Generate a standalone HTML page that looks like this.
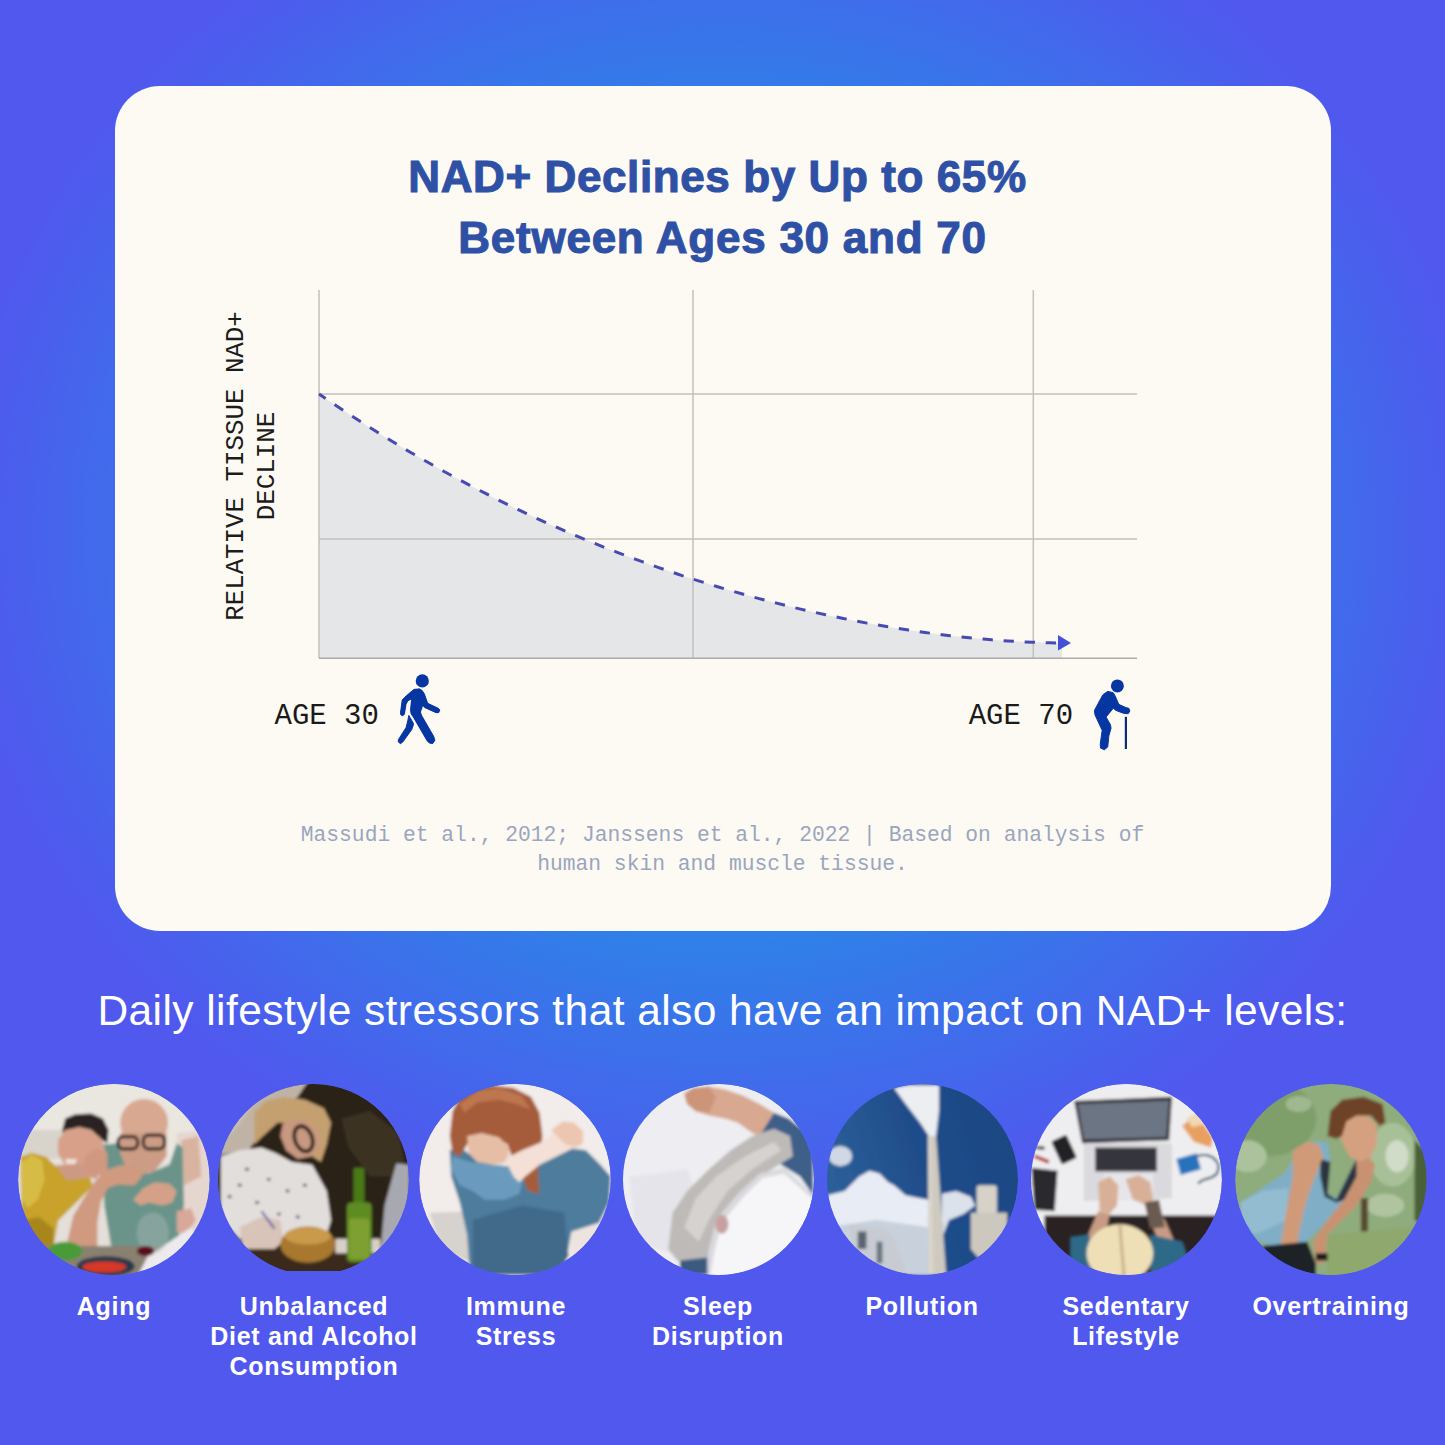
<!DOCTYPE html>
<html><head><meta charset="utf-8">
<style>
html,body{margin:0;padding:0;}
body{width:1445px;height:1445px;overflow:hidden;position:relative;
background:#5058EE;
background:radial-gradient(ellipse 765px 695px at 722px 530px,#2E82E8 0%,#2E82E8 57%,#5058EE 100%);
font-family:"Liberation Sans",sans-serif;}
.card{position:absolute;left:115px;top:85.5px;width:1215.5px;height:845.5px;border-radius:45px;background:#FCFAF3;}
.t{position:absolute;white-space:nowrap;}
.title{left:0;width:1445px;text-align:center;color:#2E51A6;font-weight:bold;font-size:44px;line-height:60.5px;letter-spacing:0.65px;-webkit-text-stroke:1.1px #2E51A6;}
.mono{font-family:"Liberation Mono",monospace;}
.sub{left:0;width:1445px;text-align:center;color:#fff;font-size:42.5px;letter-spacing:0.42px;}
.lab{color:#fff;font-weight:bold;font-size:25px;line-height:30px;text-align:center;width:240px;letter-spacing:0.7px;}
.ph{position:absolute;width:191.4px;height:191.4px;border-radius:50%;overflow:hidden;top:1083.8px;clip-path:circle(95.7px at 95.7px 95.7px);}
svg{position:absolute;left:0;top:0;}
.ylab{font-size:25.8px;line-height:30.8px;color:#1C1C1C;text-align:center;transform:translate(-50%,-50%) rotate(-90deg);}
.age{font-size:29px;line-height:34px;color:#1A1A1A;}
.cite{font-size:21.3px;line-height:28.7px;color:#9AA5BE;text-align:center;}
</style></head>
<body>
<div class="card"></div>
<div class="t title" style="top:146.5px;left:-5px;letter-spacing:0.6px;">NAD+ Declines by Up to 65%</div>
<div class="t title" style="top:207.5px;left:0px;letter-spacing:0.75px;">Between Ages 30 and 70</div>

<svg width="1445" height="1445" viewBox="0 0 1445 1445">
  <!-- fill under curve -->
  <path d="M319.0,394.0 L327.3,399.7 L335.6,405.2 L343.9,410.8 L352.2,416.2 L360.5,421.6 L368.8,426.9 L377.1,432.1 L385.4,437.2 L393.7,442.3 L402.0,447.3 L410.3,452.2 L418.6,457.0 L426.9,461.8 L435.2,466.5 L443.6,471.2 L451.9,475.7 L460.2,480.2 L468.5,484.6 L476.8,489.0 L485.1,493.2 L493.4,497.5 L501.7,501.6 L510.0,505.7 L518.3,509.7 L526.6,513.6 L534.9,517.5 L543.2,521.3 L551.5,525.0 L559.8,528.7 L568.1,532.3 L576.4,535.8 L584.7,539.3 L593.0,542.7 L601.3,546.1 L609.6,549.4 L617.9,552.6 L626.2,555.8 L634.5,558.9 L642.8,561.9 L651.1,564.9 L659.4,567.8 L667.7,570.7 L676.0,573.5 L684.3,576.3 L692.7,579.0 L701.0,581.6 L709.3,584.2 L717.6,586.8 L725.9,589.2 L734.2,591.6 L742.5,594.0 L750.8,596.3 L759.1,598.6 L767.4,600.8 L775.7,602.9 L784.0,605.0 L792.3,607.1 L800.6,609.1 L808.9,611.0 L817.2,612.9 L825.5,614.7 L833.8,616.5 L842.1,618.2 L850.4,619.9 L858.7,621.5 L867.0,623.1 L875.3,624.6 L883.6,626.0 L891.9,627.4 L900.2,628.8 L908.5,630.1 L916.8,631.3 L925.1,632.5 L933.4,633.6 L941.8,634.7 L950.1,635.7 L958.4,636.6 L966.7,637.5 L975.0,638.3 L983.3,639.1 L991.6,639.8 L999.9,640.4 L1008.2,641.0 L1016.5,641.5 L1024.8,641.9 L1033.1,642.3 L1041.4,642.6 L1049.7,642.8 L1058.0,643.0 L1062,643 L1062,658 L319,658 Z" fill="#E5E6E8"/>
  <!-- grid -->
  <g stroke="#C4C1BB" stroke-width="1.5" fill="none">
    <line x1="319" y1="290" x2="319" y2="658"/>
    <line x1="693" y1="290" x2="693" y2="658"/>
    <line x1="1033.3" y1="290" x2="1033.3" y2="658"/>
    <line x1="319" y1="394" x2="1137" y2="394"/>
    <line x1="319" y1="539.1" x2="1137" y2="539.1"/>
  </g>
  <line x1="319" y1="658.3" x2="1137" y2="658.3" stroke="#ABABA8" stroke-width="1.4"/>
  <path d="M319.0,394.0 L327.3,399.7 L335.6,405.2 L343.9,410.8 L352.2,416.2 L360.5,421.6 L368.8,426.9 L377.1,432.1 L385.4,437.2 L393.7,442.3 L402.0,447.3 L410.3,452.2 L418.6,457.0 L426.9,461.8 L435.2,466.5 L443.6,471.2 L451.9,475.7 L460.2,480.2 L468.5,484.6 L476.8,489.0 L485.1,493.2 L493.4,497.5 L501.7,501.6 L510.0,505.7 L518.3,509.7 L526.6,513.6 L534.9,517.5 L543.2,521.3 L551.5,525.0 L559.8,528.7 L568.1,532.3 L576.4,535.8 L584.7,539.3 L593.0,542.7 L601.3,546.1 L609.6,549.4 L617.9,552.6 L626.2,555.8 L634.5,558.9 L642.8,561.9 L651.1,564.9 L659.4,567.8 L667.7,570.7 L676.0,573.5 L684.3,576.3 L692.7,579.0 L701.0,581.6 L709.3,584.2 L717.6,586.8 L725.9,589.2 L734.2,591.6 L742.5,594.0 L750.8,596.3 L759.1,598.6 L767.4,600.8 L775.7,602.9 L784.0,605.0 L792.3,607.1 L800.6,609.1 L808.9,611.0 L817.2,612.9 L825.5,614.7 L833.8,616.5 L842.1,618.2 L850.4,619.9 L858.7,621.5 L867.0,623.1 L875.3,624.6 L883.6,626.0 L891.9,627.4 L900.2,628.8 L908.5,630.1 L916.8,631.3 L925.1,632.5 L933.4,633.6 L941.8,634.7 L950.1,635.7 L958.4,636.6 L966.7,637.5 L975.0,638.3 L983.3,639.1 L991.6,639.8 L999.9,640.4 L1008.2,641.0 L1016.5,641.5 L1024.8,641.9 L1033.1,642.3 L1041.4,642.6 L1049.7,642.8 L1058.0,643.0" fill="none" stroke="#474AB2" stroke-width="3" stroke-dasharray="10.3 10.8" stroke-dashoffset="2.3"/>
  <path d="M1058,635 L1071,643 L1058,650.5 Z" fill="#4350D8"/>

  <!-- walking icon -->
  <g fill="#0636A2" stroke-linejoin="round">
    <circle cx="422.3" cy="680.9" r="6.6"/>
    <polygon points="408.84,715.40 413.27,723.16 413.27,725.37 411.61,729.80 402.75,741.98 400.54,743.64 398.32,741.98 398.32,739.77 406.07,727.59 407.74,720.94" stroke="#0636A2" stroke-width="1"/>
    <polygon points="413.83,689.38 419.36,688.83 422.13,690.49 424.35,693.81 427.67,703.22 438.19,708.21 439.85,709.87 438.74,712.64 435.97,712.64 424.90,707.65 422.69,705.44 420.47,712.08 421.58,715.40 433.76,736.45 434.87,740.32 432.65,743.64 429.33,743.09 427.12,740.87 413.27,717.07 411.06,713.74 410.50,709.87 411.61,698.79 407.74,701.01 406.07,704.33 404.41,714.30 402.20,715.96 400.54,714.30 400.54,712.08 402.20,699.90 406.07,696.02" stroke="#FCFAF3" stroke-width="3" paint-order="stroke"/>
    <polygon points="413.83,689.38 419.36,688.83 422.13,690.49 424.35,693.81 427.67,703.22 438.19,708.21 439.85,709.87 438.74,712.64 435.97,712.64 424.90,707.65 422.69,705.44 420.47,712.08 421.58,715.40 433.76,736.45 434.87,740.32 432.65,743.64 429.33,743.09 427.12,740.87 413.27,717.07 411.06,713.74 410.50,709.87 411.61,698.79 407.74,701.01 406.07,704.33 404.41,714.30 402.20,715.96 400.54,714.30 400.54,712.08 402.20,699.90 406.07,696.02" stroke="#0636A2" stroke-width="0.8"/>
  </g>
  <!-- elderly icon -->
  <g fill="#0636A2" stroke-linejoin="round">
    <circle cx="1117.4" cy="685.9" r="6.5"/>
    <polygon points="1107.72,691.33 1113.26,692.72 1114.92,695.49 1118.79,704.35 1125.99,707.67 1128.76,708.22 1129.87,710.99 1128.21,713.76 1123.22,713.21 1116.02,710.44 1113.26,708.22 1106.06,717.08 1110.49,724.83 1111.04,728.16 1108.83,735.91 1107.72,746.98 1104.40,749.75 1100.52,748.09 1100.24,744.21 1102.18,730.37 1094.98,714.87 1094.43,710.44 1102.74,694.93" stroke="#0636A2" stroke-width="1"/>
    <path d="M1125.9,716.8 L1125.9,749" stroke="#0B2C78" stroke-width="2.2"/>
  </g>
</svg>

<div class="t mono ylab" style="left:252.8px;top:466px;">RELATIVE TISSUE NAD+<br>DECLINE</div>
<div class="t mono age" style="left:274.5px;top:700px;">AGE 30</div>
<div class="t mono age" style="left:968.7px;top:700px;">AGE 70</div>
<div class="t mono cite" style="left:0;width:1445px;top:821px;">Massudi et al., 2012; Janssens et al., 2022 | Based on analysis of<br>human skin and muscle tissue.</div>
<div class="t sub" style="top:987px;">Daily lifestyle stressors that also have an impact on NAD+ levels:</div>
<!--PHOTOS-->
<svg class="ph" style="left:18.2px;" width="191.4" height="191.4" viewBox="0 0 192 192"><defs><filter id="bl0" x="-5%" y="-5%" width="110%" height="110%"><feGaussianBlur stdDeviation="1.6"/></filter></defs><g><g filter="url(#bl0)"><g transform='translate(-7.90,-9) scale(0.14535)'>
<rect x="0" y="0" width="1445" height="1445" fill="#E4DFD8"/>
<rect x="0" y="0" width="1445" height="600" fill="#EAE6E0"/>
<rect x="60" y="380" width="300" height="200" fill="#D8D4CC"/>
<polygon points="1150,400 1380,380 1400,1100 1150,1150" fill="#E6D6D0"/>
<polygon points="1180,450 1300,420 1320,700 1200,760" fill="#D8B4A0"/>
<polygon points="640,480 760,470 820,600 950,680 1100,620 1150,470 1190,500 1200,900 1150,1200 700,1200 650,900" fill="#6A948A"/>
<polygon points="360,380 380,300 450,270 560,265 640,300 680,380 670,470 620,440 560,380 470,360 400,390 370,430" fill="#2A2424"/>
<polygon points="330,450 380,380 480,360 560,380 630,440 660,530 620,620 540,660 440,660 370,610 330,540" fill="#D8A088"/>
<polygon points="380,580 460,580 450,620 390,615" fill="#F0E0D8"/>
<polygon points="291,626 480,610 600,640 600,720 551,706 391,740 331,700" fill="#CC9A84"/>
<polygon points="511,560 600,506 671,540 671,686 560,700 511,650" fill="#D09880"/>
<polygon points="71,566 151,536 251,566 331,646 391,726 551,706 571,766 471,866 331,1006 300,1180 120,1180 80,1000" fill="#C8A22A"/>
<polygon points="100,1000 200,980 300,1060 300,1180 120,1180" fill="#A8861C"/>
<polygon points="75,600 150,550 220,590 240,720 190,860 120,920 80,850" fill="#D6BC44"/>
<ellipse cx="925" cy="330" rx="165" ry="165" fill="#D8A890"/>
<polygon points="760,400 1080,400 1080,560 1000,660 900,690 800,640 760,540" fill="#CC9C84"/>
<rect x="745" y="425" width="135" height="85" rx="35" fill="none" stroke="#2A2020" stroke-width="22"/>
<rect x="920" y="415" width="145" height="95" rx="35" fill="none" stroke="#2A2020" stroke-width="22"/>
<polygon points="388,1180 436,971 507,852 579,742 650,661 743,628 800,620 900,640 910,700 860,760 743,756 674,780 626,875 602,1018 602,1180" fill="#CF9A80"/>
<polygon points="850,860 920,780 1000,740 1100,750 1150,800 1120,880 1050,900 960,880 900,900" fill="#D4A088"/>
<polygon points="1150,940 1250,920 1280,1000 1220,1100 1150,1080" fill="#D8A898"/>
<rect x="0" y="1180" width="1445" height="265" fill="#8A8070"/>
<ellipse cx="380" cy="1215" rx="120" ry="65" fill="#4A9A38"/>
<ellipse cx="660" cy="1320" rx="200" ry="70" fill="#283848"/>
<ellipse cx="650" cy="1325" rx="150" ry="38" fill="#D83828"/>
<polygon points="850,1445 950,1250 1100,1150 1250,1050 1320,1150 1250,1300 1000,1445" fill="#ECEAEC"/>
<ellipse cx="985" cy="1090" rx="110" ry="140" fill="#A8B8B4" opacity="0.45"/>
<ellipse cx="935" cy="1215" rx="60" ry="35" fill="#5A1020"/>
</g></g></g></svg>
<svg class="ph" style="left:217.6px;" width="191.4" height="191.4" viewBox="0 0 192 192"><defs><filter id="bl1" x="-5%" y="-5%" width="110%" height="110%"><feGaussianBlur stdDeviation="1.6"/></filter><clipPath id="cb1"><rect x="0" y="0" width="192" height="187.5"/></clipPath></defs><g clip-path="url(#cb1)"><g filter="url(#bl1)"><g transform='translate(-7.25,-9) scale(0.14535)'>
<rect x="0" y="0" width="1445" height="1445" fill="#2A2018"/>
<polygon points="900,300 1100,250 1300,400 1350,700 1100,700 950,500" fill="#3A3020"/>
<polygon points="0,0 700,0 600,150 420,300 260,520 0,560" fill="#BFB3A6"/>
<polygon points="0,0 400,0 300,200 150,400 0,450" fill="#C8BEB2"/>
<polygon points="70,560 200,520 350,500 450,540 560,600 700,620 800,800 830,1000 800,1100 600,1120 400,1140 200,1130 70,1000" fill="#E2DEDC"/>
<g fill="#4A4448"><ellipse cx="250" cy="650" rx="14" ry="10"/><ellipse cx="400" cy="720" rx="14" ry="10"/><ellipse cx="530" cy="800" rx="14" ry="10"/><ellipse cx="320" cy="880" rx="14" ry="10"/><ellipse cx="470" cy="960" rx="14" ry="10"/><ellipse cx="650" cy="760" rx="14" ry="10"/><ellipse cx="130" cy="840" rx="14" ry="10"/><ellipse cx="600" cy="980" rx="14" ry="10"/><ellipse cx="200" cy="760" rx="14" ry="10"/></g>
<polygon points="300,260 380,180 500,150 650,170 780,230 830,330 800,480 760,600 700,560 650,420 560,330 460,330 360,420 300,480" fill="#C4A070"/>
<polygon points="500,330 640,300 740,380 760,500 700,560 600,580 520,520 480,420" fill="#C89880"/>
<ellipse cx="640" cy="440" rx="60" ry="90" transform="rotate(-20 640 440)" fill="none" stroke="#1A1410" stroke-width="25"/>
<polygon points="200,1050 350,980 480,1000 500,1150 380,1250 220,1200" fill="#D8C4B8"/>
<path d="M350,940 L440,1060" stroke="#3040A0" stroke-width="12"/>
<rect x="0" y="1200" width="1445" height="245" fill="#3A2A1C"/>
<polygon points="860,1130 1170,1130 1170,1230 860,1230" fill="#D8D0C8"/>
<ellipse cx="670" cy="1170" rx="190" ry="125" fill="#A8782E"/>
<ellipse cx="670" cy="1110" rx="160" ry="60" fill="#C89A4A"/>
<polygon points="1280,610 1370,620 1370,1100 1170,1230 1200,900" fill="#A8A8B0"/>
<rect x="985" y="640" width="75" height="260" rx="12" fill="#4A7A18"/>
<rect x="940" y="880" width="170" height="410" rx="30" fill="#5E8C22"/>
<rect x="955" y="990" width="140" height="280" rx="20" fill="#7EA030"/>
</g></g></g></svg>
<svg class="ph" style="left:419.3px;" width="191.4" height="191.4" viewBox="0 0 192 192"><defs><filter id="bl2" x="-5%" y="-5%" width="110%" height="110%"><feGaussianBlur stdDeviation="1.6"/></filter></defs><g><g filter="url(#bl2)"><g transform='translate(-6.95,-9) scale(0.14535)'>
<rect x="0" y="0" width="1445" height="1445" fill="#F2ECEA"/>
<polygon points="120,950 420,940 420,1300 200,1200" fill="#D6D2CE"/>
<polygon points="1100,1000 1300,980 1300,1250 1100,1250" fill="#EDE4E0"/>
<polygon points="260,520 330,500 420,560 560,620 760,640 900,560 1050,500 1200,520 1300,620 1370,700 1360,880 1290,1020 1100,1080 1060,1300 950,1380 400,1380 380,1100 330,880 270,700" fill="#4E7C9C"/>
<polygon points="420,1000 760,900 1050,950 1080,1250 950,1380 420,1380" fill="#41698A"/>
<polygon points="280,560 400,600 560,620 700,640 770,700 740,820 640,860 500,860 420,800 330,760 270,650" fill="#6B9BBE"/>
<polygon points="260,420 280,250 330,150 430,90 560,70 700,90 820,150 880,260 900,420 880,560 870,700 880,820 800,800 760,700 700,600 660,480 560,420 440,420 380,480 330,560 280,540" fill="#A55C3A"/>
<polygon points="330,200 450,110 600,90 750,140 820,240 720,200 600,170 450,190 360,260" fill="#BE7650"/>
<polygon points="380,420 480,400 600,430 670,500 660,600 560,620 450,600 390,540" fill="#E6BEA6"/>
<polygon points="640,580 760,520 900,460 1000,380 1060,340 1140,380 1160,470 1100,510 1000,560 880,620 780,700 740,740 700,700" fill="#F4E0D6"/>
<polygon points="960,380 1040,320 1120,330 1180,390 1180,470 1130,500 1060,480" fill="#ECC6B0"/>
</g></g></g></svg>
<svg class="ph" style="left:622.6px;" width="191.4" height="191.4" viewBox="0 0 192 192"><defs><filter id="bl3" x="-5%" y="-5%" width="110%" height="110%"><feGaussianBlur stdDeviation="1.6"/></filter></defs><g><g filter="url(#bl3)"><g transform='translate(-8.35,-9) scale(0.14535)'>
<rect x="0" y="0" width="1445" height="1445" fill="#EEEEF2"/>
<polygon points="100,700 500,650 600,900 450,1250 150,1150" fill="#E4E4EA"/>
<polygon points="480,130 540,90 650,80 760,100 880,140 1000,200 1100,260 1120,380 1050,440 950,400 850,330 760,300 650,280 560,250 500,200" fill="#D8A890"/>
<polygon points="480,130 540,90 650,80 700,150 650,260 560,250 500,200" fill="#CC9478"/>
<polygon points="1000,420 1100,260 1200,300 1300,380 1370,500 1370,830 1280,700 1150,620 1060,520" fill="#3D5F88"/>
<polygon points="370,1200 400,950 500,800 650,650 800,520 950,420 1100,370 1210,420 1230,560 1100,640 950,740 800,880 700,1050 660,1260 560,1300 430,1280" fill="#BEBAB8"/>
<polygon points="480,1050 560,850 700,700 900,560 1100,460 1150,520 950,650 780,800 650,1000 580,1150" fill="#D6D2D0"/>
<polygon points="620,1380 650,1200 700,1000 850,820 1000,680 1170,640 1370,830 1370,1380" fill="#D8D8DE"/>
<polygon points="660,1380 690,1210 740,1020 880,850 1020,710 1170,680 1370,860 1370,1380" fill="#F6F6F8"/>
<ellipse cx="740" cy="1030" rx="45" ry="65" fill="#C8A0A0"/>
<polygon points="450,1280 640,1260 640,1380 450,1380" fill="#3A5A80"/>
</g></g></g></svg>
<svg class="ph" style="left:826.6px;" width="191.4" height="191.4" viewBox="0 0 192 192"><defs><filter id="bl4" x="-5%" y="-5%" width="110%" height="110%"><feGaussianBlur stdDeviation="1.6"/></filter></defs><g><g filter="url(#bl4)"><g transform='translate(-8.35,-9) scale(0.14535)'>
<defs><linearGradient id="sky2" x1="0" y1="0.6" x2="1" y2="0.3"><stop offset="0" stop-color="#2E629C"/><stop offset="0.5" stop-color="#1F4D8A"/><stop offset="1" stop-color="#1A4682"/></linearGradient></defs>
<rect x="0" y="0" width="1445" height="1445" fill="url(#sky2)"/>
<ellipse cx="150" cy="560" rx="80" ry="70" fill="#D0D8E6"/>
<polygon points="60,830 180,800 280,700 350,660 420,680 480,740 520,760 600,830 700,850 760,860 760,1380 300,1380 60,1150" fill="#E8ECF4"/>
<polygon points="60,1050 400,1000 760,1050 760,1380 60,1380" fill="#C8D0DC"/>
<polygon points="850,820 950,800 1050,840 1080,900 1000,960 900,1000 860,1100 850,1000" fill="#DCE2EC"/>
<polygon points="520,90 620,70 830,70 830,250 810,420 760,420 700,330 600,200" fill="#ECEEF2"/>
<polygon points="755,420 810,420 880,1380 760,1380" fill="#CFCAC0"/>
<polygon points="755,420 775,420 790,1380 760,1380" fill="#DCD6CA"/>
<rect x="1090" y="760" width="140" height="200" rx="20" fill="#D6D2C8"/>
<polygon points="1050,950 1300,950 1300,1260 1100,1260 1050,1200" fill="#CCC8BE"/>
<polygon points="200,1030 460,1060 520,1130 600,1330 600,1380 380,1380 250,1200" fill="#C8CCD2"/>
<rect x="270" y="1080" width="60" height="120" fill="#5A6470"/>
<rect x="400" y="1150" width="40" height="150" fill="#6A7480"/>
</g></g></g></svg>
<svg class="ph" style="left:1030.5px;" width="191.4" height="191.4" viewBox="0 0 192 192"><defs><filter id="bl5" x="-5%" y="-5%" width="110%" height="110%"><feGaussianBlur stdDeviation="1.6"/></filter></defs><g><g filter="url(#bl5)"><g transform='translate(-8.25,-9) scale(0.14535)'>
<rect x="0" y="0" width="1445" height="1445" fill="#EEEEF0"/>
<polygon points="150,970 1370,970 1370,1445 150,1445" fill="#2A2422"/>
<polygon points="420,470 1030,470 1030,850 420,870" fill="#DADADE"/>
<polygon points="560,680 900,680 900,850 560,860" fill="#E6E6EA"/>
<polygon points="355,180 1030,150 1010,450 410,470" fill="#2A2A2E"/>
<polygon points="380,200 1010,175 990,430 420,445" fill="#6C7484"/>
<rect x="500" y="500" width="425" height="165" fill="#36363C"/>
<rect x="220" y="420" width="130" height="190" rx="20" transform="rotate(-25 285 515)" fill="#222226" stroke="#F4F4F4" stroke-width="14"/>
<polygon points="60,640 240,660 220,940 80,930" fill="#2A2A2E"/>
<path d="M80,560 L180,600" stroke="#B83030" stroke-width="25"/>
<path d="M90,500 L150,505" stroke="#222" stroke-width="20"/>
<polygon points="1100,350 1200,270 1310,430 1300,500 1180,460" fill="#E8A060"/>
<polygon points="1130,300 1200,260 1250,340 1170,360" fill="#F0D8B0"/>
<polygon points="1060,580 1200,540 1230,650 1090,690" fill="#2872BC"/>
<path d="M1200,560 C1300,530 1380,600 1340,680 C1300,730 1250,700 1210,750" stroke="#1E4A60" stroke-width="15" fill="none"/>
<polygon points="430,1150 520,940 600,960 560,1160" fill="#C89C84"/>
<polygon points="900,880 980,1000 1060,1180 960,1200 860,960" fill="#C89C84"/>
<polygon points="520,740 600,700 660,760 650,900 600,960 530,940" fill="#D8B098"/>
<polygon points="710,720 800,690 880,740 900,860 860,900 760,860" fill="#D8B098"/>
<polygon points="840,880 940,860 980,1050 880,1060" fill="#6A5A50"/>
<polygon points="330,1120 460,1100 480,1445 330,1445" fill="#2E6A88"/>
<polygon points="880,1100 1100,1150 1200,1445 880,1445" fill="#2E6A88"/>
<ellipse cx="670" cy="1230" rx="230" ry="200" fill="#EEDFB6"/>
<path d="M670,1040 L700,1400" stroke="#C8B088" stroke-width="20"/>
</g></g></g></svg>
<svg class="ph" style="left:1235.2px;" width="191.4" height="191.4" viewBox="0 0 192 192"><defs><filter id="bl6" x="-5%" y="-5%" width="110%" height="110%"><feGaussianBlur stdDeviation="1.6"/></filter></defs><g><g filter="url(#bl6)"><g transform='translate(-8.95,-9) scale(0.14535)'>
<rect x="0" y="0" width="1445" height="1445" fill="#8EAC7C"/>
<ellipse cx="300" cy="300" rx="320" ry="260" fill="#7E9E6A"/>
<ellipse cx="500" cy="200" rx="90" ry="55" fill="#A0B890"/>
<ellipse cx="150" cy="560" rx="130" ry="110" fill="#ACC29C"/>
<ellipse cx="1150" cy="550" rx="160" ry="220" fill="#A8C098"/>
<ellipse cx="1180" cy="560" rx="80" ry="110" fill="#D0DCC8"/>
<ellipse cx="1100" cy="900" rx="130" ry="80" fill="#B0C4A0"/>
<polygon points="1300,450 1400,550 1400,1050 1300,1000" fill="#4A6038"/>
<rect x="930" y="850" width="50" height="350" fill="#5A4A30"/>
<polygon points="700,1100 1300,1050 1300,1445 700,1445" fill="#8EA86E"/>
<polygon points="100,880 250,780 400,680 450,600 600,460 700,460 720,600 680,800 760,850 900,580 920,700 880,880 700,1000 560,1150 300,1180 150,1100 100,1000" fill="#80AEC6"/>
<polygon points="100,880 250,800 430,780 420,1000 200,1100 110,1000" fill="#94BCD0"/>
<polygon points="650,580 720,600 700,820 760,860 900,580 910,720 860,850 760,880 680,840 650,700" fill="#2A3440"/>
<polygon points="460,520 560,460 640,480 670,560 590,760 540,920 500,1100 480,1290 380,1290 380,1150 420,920 460,700" fill="#D09A78"/>
<polygon points="900,580 980,560 1030,620 1000,740 900,900 800,1000 700,1100 680,1300 620,1300 600,1150 700,1000 820,850 900,700" fill="#C89272"/>
<polygon points="800,300 960,270 1040,340 1040,480 1000,560 920,600 850,560 790,440" fill="#D4A080"/>
<polygon points="700,420 720,250 800,170 950,150 1080,200 1100,330 1060,350 1000,280 900,280 830,320 800,420 760,440" fill="#6E4228"/>
<polygon points="250,1180 560,1150 620,1300 620,1445 250,1445" fill="#1E2228"/>
<rect x="620" y="1230" width="80" height="50" fill="#1A1A1A"/>
</g></g></g></svg>
<!--/PHOTOS-->
<div class="t lab" style="left:-6px;top:1291px;">Aging</div>
<div class="t lab" style="left:194px;top:1291px;">Unbalanced<br>Diet and Alcohol<br>Consumption</div>
<div class="t lab" style="left:396px;top:1291px;">Immune<br>Stress</div>
<div class="t lab" style="left:598px;top:1291px;">Sleep<br>Disruption</div>
<div class="t lab" style="left:802px;top:1291px;">Pollution</div>
<div class="t lab" style="left:1006px;top:1291px;">Sedentary<br>Lifestyle</div>
<div class="t lab" style="left:1211px;top:1291px;">Overtraining</div>
</body></html>
